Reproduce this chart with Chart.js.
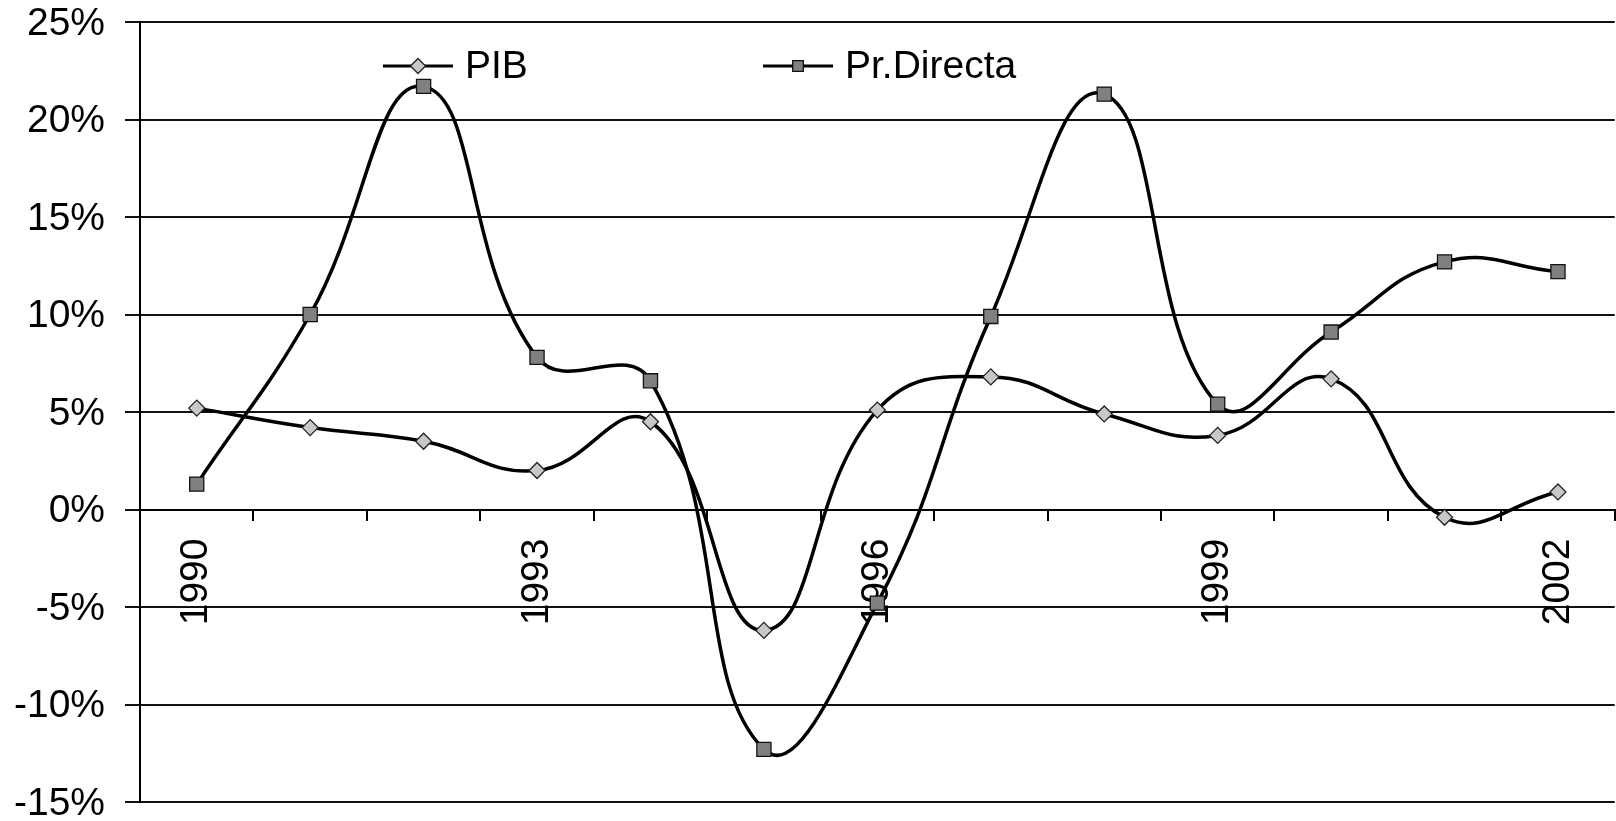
<!DOCTYPE html>
<html>
<head>
<meta charset="utf-8">
<script src="https://cdn.jsdelivr.net/npm/chart.js@4.4.1/dist/chart.umd.min.js"></script>
<style>
  html, body { margin: 0; padding: 0; background: #fff; overflow: hidden; }
  #wrap { width: 1626px; height: 821px; }
</style>
</head>
<body>
<div id="wrap"><canvas id="myChart" width="1626" height="821"></canvas></div>
<script>
var years = ["1990", "1991", "1992", "1993", "1994", "1995", "1996",
  "1997", "1998", "1999", "2000", "2001", "2002"];
var pib = [5.2, 4.2, 3.5, 2.0, 4.5, -6.2, 5.1, 6.8, 4.9, 3.8, 6.7, -0.4, 0.9];
var prDirecta = [1.3, 10.0, 21.7, 7.8, 6.6, -12.3, -4.8, 9.9, 21.3, 5.4, 9.1, 12.7, 12.2];
var shownYears = ["1990", "1993", "1996", "1999", "2002"];

var FONT = "'Liberation Sans', Arial, sans-serif";
var FONT_SIZE = 39;

// legend drawn by hand: a short line with the marker in its middle
var lineLegend = {
  id: "lineLegend",
  afterDraw: function (chart) {
    var c = chart.ctx;
    var starts = [383, 763];
    var y = 66;
    c.save();
    chart.data.datasets.forEach(function (d, i) {
      var x0 = starts[i];
      var x1 = x0 + 70;
      c.strokeStyle = d.borderColor;
      c.lineWidth = 3;
      c.beginPath();
      c.moveTo(x0, y);
      c.lineTo(x1, y);
      c.stroke();
      c.fillStyle = d.pointBackgroundColor;
      c.strokeStyle = d.pointBorderColor;
      c.lineWidth = d.pointBorderWidth;
      Chart.helpers.drawPoint(c, {
        pointStyle: d.pointStyle,
        radius: i === 0 ? 7.5 : 7.5,
        borderWidth: d.pointBorderWidth,
      }, (x0 + x1) / 2, y);
      c.fillStyle = "#000";
      c.font = FONT_SIZE + "px " + FONT;
      c.textBaseline = "middle";
      c.textAlign = "left";
      c.fillText(d.label, x1 + 12, y + 1);
    });
    c.restore();
  },
};

var ctx = document.getElementById("myChart").getContext("2d");

var myChart = new Chart(ctx, {
  type: "line",
  data: {
    labels: years,
    datasets: [
      {
        label: "PIB",
        data: pib,
        borderColor: "#000",
        borderWidth: 3.5,
        tension: 0.45,
        pointStyle: "rectRot",
        pointRadius: 8,
        pointBackgroundColor: "#c8c8c8",
        pointBorderColor: "#222",
        pointBorderWidth: 1.3,
      },
      {
        label: "Pr.Directa",
        data: prDirecta,
        borderColor: "#000",
        borderWidth: 3.5,
        tension: 0.45,
        pointStyle: "rect",
        pointRadius: 10,
        pointBackgroundColor: "#808080",
        pointBorderColor: "#111",
        pointBorderWidth: 1.3,
      },
    ],
  },
  options: {
    responsive: false,
    animation: false,
    layout: {
      padding: { top: 22, bottom: 19, left: 0, right: 0 },
    },
    scales: {
      y: {
        min: -15,
        max: 25,
        afterFit: function (scale) {
          scale.width = 140;
          scale.paddingTop = 0;
          scale.paddingBottom = 0;
        },
        ticks: {
          stepSize: 5,
          padding: 20,
          labelOffset: 2,
          color: "#000",
          font: { family: FONT, size: FONT_SIZE, lineHeight: 1 },
          callback: function (v) {
            return v + "%";
          },
        },
        grid: {
          color: "#111",
          lineWidth: 2,
          tickLength: 15,
        },
        border: { display: true, color: "#000", width: 2 },
      },
      x: {
        type: "category",
        position: { y: 0 },
        offset: true,
        afterFit: function (scale) {
          scale.paddingLeft = 0;
          scale.paddingRight = 0;
        },
        grid: {
          offset: true,
          drawOnChartArea: false,
          drawTicks: true,
          tickLength: 10,
          color: "#000",
          lineWidth: 2,
        },
        border: { display: true, color: "#000", width: 2 },
        ticks: {
          autoSkip: false,
          minRotation: 90,
          maxRotation: 90,
          padding: 19,
          color: "#000",
          font: { family: FONT, size: FONT_SIZE, lineHeight: 1 },
          callback: function (v, i) {
            return shownYears.indexOf(years[i]) >= 0 ? years[i] : "";
          },
        },
      },
    },
    plugins: {
      legend: { display: false },
      tooltip: { enabled: false },
    },
  },
  plugins: [lineLegend],
});
</script>
</body>
</html>
